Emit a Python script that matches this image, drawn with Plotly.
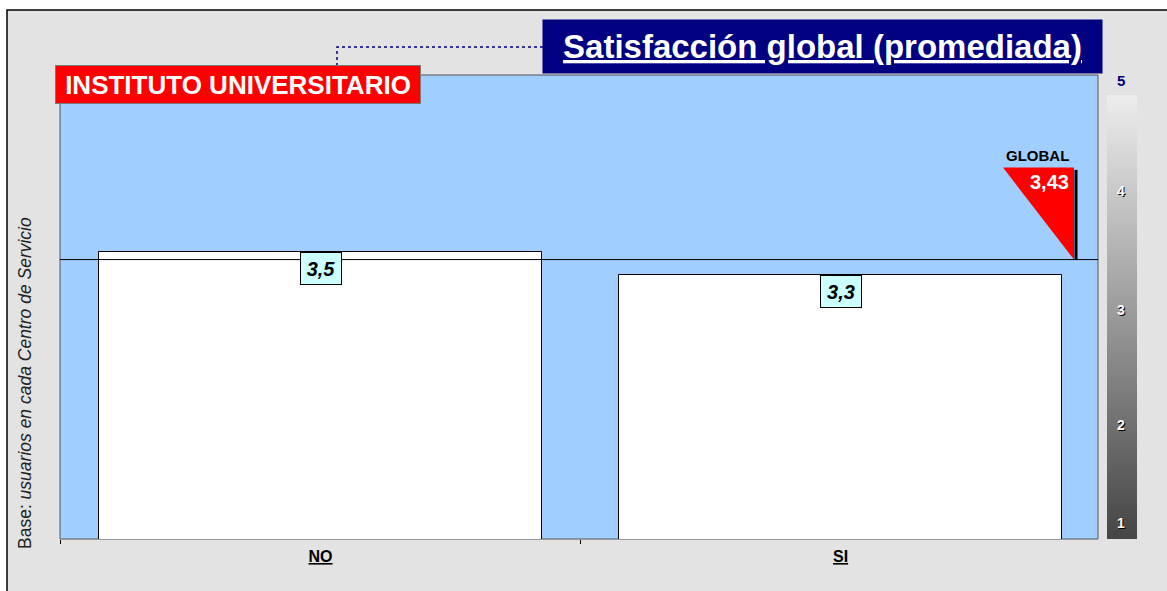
import plotly.graph_objects as go

# --- data -----------------------------------------------------------------
CATEGORIES = ["NO", "SI"]
SATISFACTION = [3.5, 3.3]
GLOBAL_MEAN = 3.43
SCALE_TICKS = [1, 2, 3, 4, 5]

TITLE = "Satisfacción global (promediada)"
CENTER = "INSTITUTO UNIVERSITARIO"
BASE_NOTE_HEAD = "Base:"
BASE_NOTE_TAIL = "usuarios en cada Centro de Servicio"

# --- page geometry --------------------------------------------------------
W, H = 1167, 591
L, R, T, B = 60, 30, 75, 52
PW, PH = W - L - R, H - T - B
FONT = "Liberation Sans, Arial, sans-serif"


def px(x):
    return (x - L) / PW


def py(y):
    return (H - B - y) / PH


def comma(v, d):
    return f"{v:.{d}f}".replace(".", ",")


fig = go.Figure()

fig.add_trace(go.Bar(
    x=CATEGORIES,
    y=SATISFACTION,
    width=0.852,
    marker=dict(color="white", line=dict(color="black", width=1)),
    hoverinfo="skip",
))

# grey scale bar on the right
fig.add_trace(go.Heatmap(
    x=[0, 1],
    y=SCALE_TICKS,
    z=[[t, t] for t in SCALE_TICKS],
    zsmooth="best",
    colorscale=[[0, "#454545"], [1, "#ededed"]],
    showscale=False,
    xaxis="x2",
    yaxis="y2",
    hoverinfo="skip",
))

tri_top = GLOBAL_MEAN + 0.8

shapes = [
    # outer frame
    dict(type="rect", xref="paper", yref="paper",
         x0=px(7), x1=px(1180), y0=py(610), y1=py(10),
         fillcolor="#e3e3e3", line=dict(color="black", width=1.5), layer="below"),
    # plot area
    dict(type="rect", xref="x domain", yref="y domain", x0=0, x1=1, y0=0, y1=1,
         fillcolor="#a0cfff", line=dict(color="#555555", width=1), layer="below"),
    # global mean line
    dict(type="line", xref="x domain", yref="y", x0=0, x1=1,
         y0=GLOBAL_MEAN, y1=GLOBAL_MEAN, line=dict(color="black", width=1)),
    # global marker triangle + shadow
    dict(type="line", xref="paper", yref="y", x0=px(1076), x1=px(1076),
         y0=GLOBAL_MEAN, y1=tri_top - 0.02, line=dict(color="black", width=3)),
    dict(type="path", xref="paper", yref="y",
         path=f"M {px(1003)},{tri_top} L {px(1074)},{tri_top} L {px(1074)},{GLOBAL_MEAN} Z",
         fillcolor="#ff0000", line=dict(width=0)),
    # dotted connector between labels
    dict(type="path", xref="paper", yref="paper",
         path=f"M {px(337)},{py(66)} L {px(337)},{py(47)} L {px(543)},{py(47)}",
         line=dict(color="#000080", width=1.5, dash="dot")),
]

annotations = [
    dict(xref="paper", yref="paper", x=px(822.5), y=py(46.5),
         xanchor="center", yanchor="middle",
         text=f"<b><u>{TITLE}</u></b>", showarrow=False,
         font=dict(family=FONT, size=33, color="white"),
         bgcolor="#000080", width=551, height=45, borderpad=4),
    dict(xref="paper", yref="paper", x=px(238), y=py(84.5),
         xanchor="center", yanchor="middle",
         text=f"<b>{CENTER}</b>", showarrow=False,
         font=dict(family=FONT, size=26, color="white"),
         bgcolor="#ff0000", bordercolor="#7a7a7a", borderwidth=1,
         width=358, height=31, borderpad=3),
    dict(xref="paper", yref="paper", x=px(1037), y=py(156),
         xanchor="center", yanchor="middle",
         text="<b>GLOBAL</b>", showarrow=False,
         font=dict(family=FONT, size=15, color="black")),
    dict(xref="paper", yref="paper", x=px(1049), y=py(182),
         xanchor="center", yanchor="middle",
         text=f"<b>{comma(GLOBAL_MEAN, 2)}</b>", showarrow=False,
         font=dict(family=FONT, size=20, color="white")),
    dict(xref="paper", yref="paper", x=px(25), y=py(383), textangle=-90,
         xanchor="center", yanchor="middle",
         text=f"{BASE_NOTE_HEAD} <i>{BASE_NOTE_TAIL}</i>", showarrow=False,
         font=dict(family=FONT, size=17.5, color="#222222")),
]

for cat, val in zip(CATEGORIES, SATISFACTION):
    annotations.append(dict(
        x=cat, y=val, xref="x", yref="y", xanchor="center", yanchor="top",
        text=f"<b><i>{comma(val, 1)}</i></b>", showarrow=False,
        font=dict(family=FONT, size=20, color="black"),
        bgcolor="#ccffff", bordercolor="black", borderwidth=1,
        width=36, height=27, borderpad=2,
    ))

for t in SCALE_TICKS:
    top = t == SCALE_TICKS[-1]
    annotations.append(dict(
        xref="paper", yref="y", x=px(1121), y=t,
        xanchor="center", yanchor="middle",
        yshift=16 if t == SCALE_TICKS[0] else (3 if t == 4 else -1),
        text=f"<b>{t}</b>", showarrow=False,
        font=dict(family=FONT, size=15 if top else 14,
                  color="#000080" if top else "white",
                  shadow="none" if top else "1px 1px 0px black"),
    ))

fig.update_layout(
    width=W,
    height=H,
    margin=dict(l=L, r=R, t=T, b=B),
    paper_bgcolor="white",
    plot_bgcolor="rgba(0,0,0,0)",
    showlegend=False,
    bargap=0,
    font=dict(family=FONT, color="black"),
    xaxis=dict(
        domain=[0, px(1098)],
        range=[-0.501, 1.495],
        tickvals=CATEGORIES,
        ticktext=[f"<b><u>{c}</u></b>" for c in CATEGORIES],
        tickfont=dict(family=FONT, size=16, color="black"),
        ticklabelstandoff=6,
        tickson="boundaries",
        ticks="outside",
        ticklen=4,
        tickcolor="black",
        showgrid=False,
        showline=False,
        zeroline=False,
        fixedrange=True,
    ),
    yaxis=dict(
        domain=[0, 1],
        range=[1, 5.035],
        visible=False,
        fixedrange=True,
    ),
    xaxis2=dict(
        domain=[px(1107), px(1137)],
        range=[0, 1],
        anchor="y2",
        visible=False,
    ),
    yaxis2=dict(
        domain=[0, py(95)],
        range=[1, 5],
        anchor="x2",
        visible=False,
    ),
    shapes=shapes,
    annotations=annotations,
)

fig.write_html(
    "out.html",
    config={"displayModeBar": False},
    post_script="document.body.style.margin='0';document.body.style.overflow='hidden';",
)
